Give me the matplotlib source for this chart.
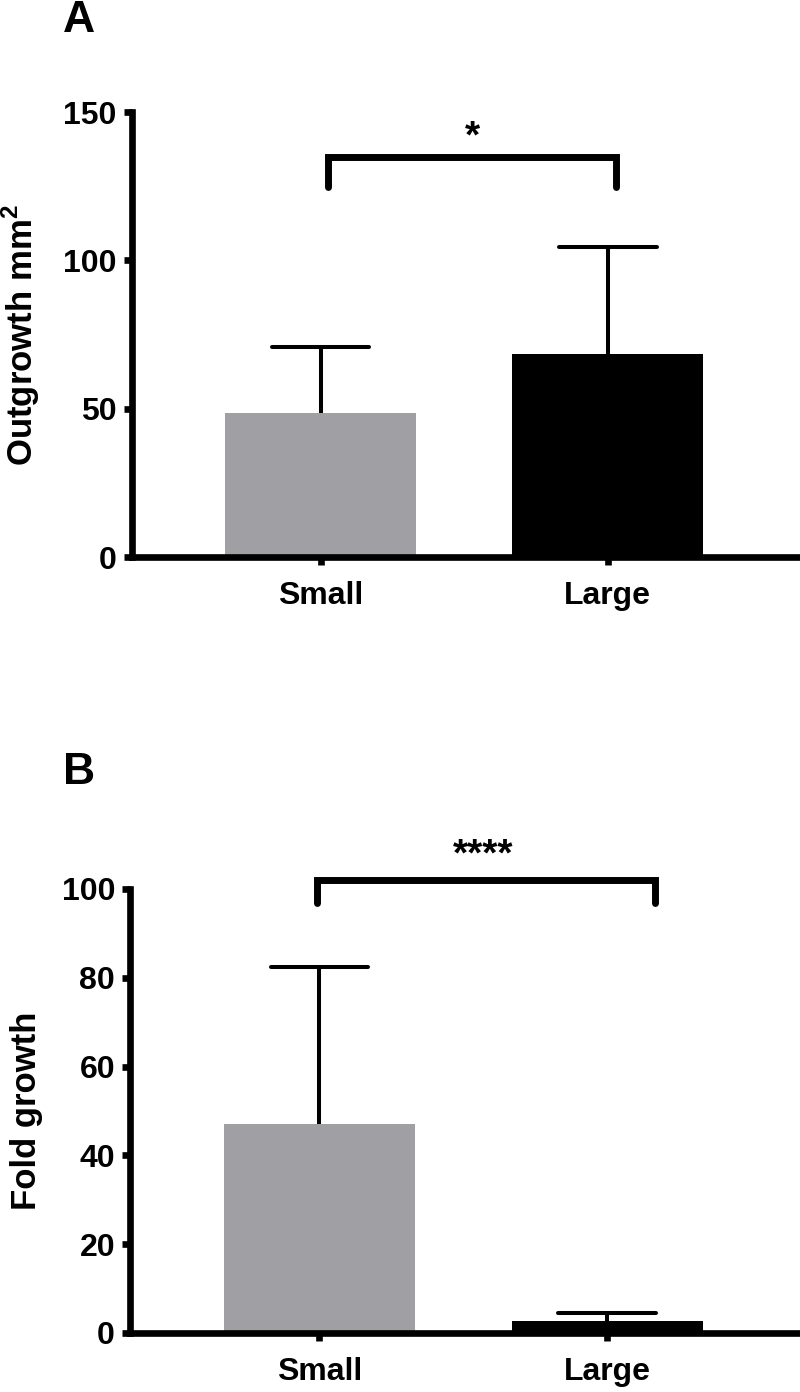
import matplotlib
matplotlib.use("Agg")
import matplotlib.pyplot as plt

plt.rcParams['font.family'] = ['Liberation Sans', 'DejaVu Sans']
plt.rcParams['font.weight'] = 'bold'
plt.rcParams['mathtext.fontset'] = 'custom'
plt.rcParams['mathtext.rm'] = 'Liberation Sans:bold'
plt.rcParams['mathtext.bf'] = 'Liberation Sans:bold'

# data
groups = ['Small', 'Large']
bar_colors = ['#a0a0a4', '#000000']

outgrowth_mean = [48.6, 68.5]
outgrowth_err = [22.2, 35.9]
outgrowth_ticks = [0, 50, 100, 150]

fold_mean = [47.1, 2.8]
fold_err = [35.3, 1.8]
fold_ticks = [0, 20, 40, 60, 80, 100]

fig = plt.figure(figsize=(8, 13.92), dpi=100)
axA = fig.add_axes([0.165, 0.5998, 0.834, 0.3197])
axB = fig.add_axes([0.163, 0.0424, 0.836, 0.3190])


def draw_panel(ax, means, errs, ticks, ylabel, bracket, stars, lab_x):
    x = list(range(len(groups)))
    ax.bar(x, means, width=0.665, color=bar_colors, zorder=2)
    # one-sided error bars (upper only)
    tops = [m + e for m, e in zip(means, errs)]
    ax.vlines(x, means, tops, color='black', lw=2.9, zorder=3)
    ax.hlines(tops, [xi - 0.17 for xi in x], [xi + 0.17 for xi in x],
              color='black', lw=2.9, zorder=3, capstyle='round')
    ax.set_xlim(-0.657, 1.667)
    ax.set_ylim(ticks[0], ticks[-1])
    ax.set_yticks(ticks)
    ax.set_xticks(x)
    ax.set_xticklabels(groups)
    for s in ['top', 'right']:
        ax.spines[s].set_visible(False)
    for s in ['left', 'bottom']:
        ax.spines[s].set_linewidth(4.8)
    ax.tick_params(axis='both', direction='out', length=6, width=4.8,
                   labelsize=23, pad=5)
    ax.tick_params(axis='x', pad=11)
    ax.set_ylabel(ylabel, fontsize=25, fontweight='bold')
    ax.yaxis.set_label_coords(lab_x, 0.5)
    x0, x1, ytop, yend = bracket
    ax.plot([x0, x0, x1, x1], [yend, ytop, ytop, yend], color='black', lw=5,
            solid_capstyle='round', solid_joinstyle='miter', clip_on=False, zorder=4)
    sx, sy, txt = stars
    ax.text(sx, sy, txt, ha='center', va='center', fontsize=28, fontweight='bold',
            clip_on=False)


draw_panel(axA, outgrowth_mean, outgrowth_err, outgrowth_ticks,
           r'Outgrowth mm$^{2}$', (0.026, 1.03, 134.8, 124.7), (0.53, 141.5, '*'),
           -0.135)
draw_panel(axB, fold_mean, fold_err, fold_ticks,
           'Fold growth', (-0.01, 1.165, 102.0, 96.8), (0.57, 107.5, '****'),
           -0.130)

fig.text(79 / 800, 1 - 21 / 1392, 'A', fontsize=32, fontweight='bold',
         ha='center', va='center')
fig.text(79 / 800, 1 - 772 / 1392, 'B', fontsize=32, fontweight='bold',
         ha='center', va='center')

fig.savefig('out.png', dpi=100)
